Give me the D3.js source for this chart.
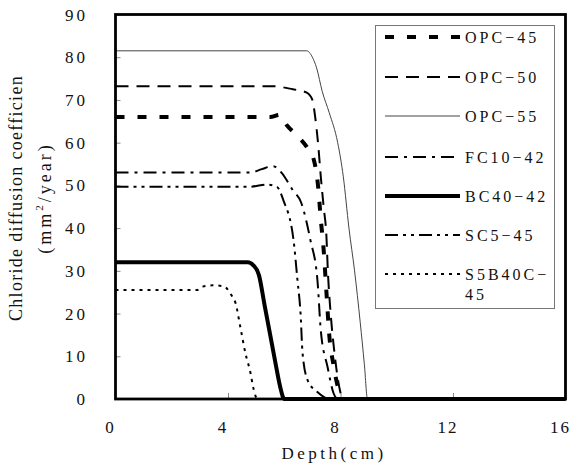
<!DOCTYPE html>
<html lang="en">
<head>
    <meta charset="utf-8" />
    <title>Chloride diffusion coefficient vs depth</title>
    <script src="https://d3js.org/d3.v7.min.js"></script>
    <style>
        body { margin: 0; background: #fff; }
        text { font-family: "Liberation Serif", "DejaVu Serif", serif; fill: #111; }
    </style>
</head>
<body>
    <div id="chart"></div>
    <script>
        // series names (legend order)
        const names = ["OPC−45", "OPC−50", "OPC−55", "FC10−42", "BC40−42", "SC5−45", "S5B40C−45"];

        // depth (cm) / coefficient (mm2/year)
        const opc45 = [[0,66],[5.5,66],[5.85,66.5],[6.1,64],[6.4,62],[6.8,59],[7.05,56],[7.2,50],[7.3,42],[7.4,35],[7.5,25],[7.6,15],[7.75,8],[7.9,3],[8.1,0],[16,0]];
        const opc50 = [[0,73.2],[5.6,73.2],[6.3,72.5],[6.8,71.7],[7.0,70],[7.1,66],[7.2,60],[7.3,52],[7.4,45],[7.5,38],[7.55,30],[7.65,20],[7.8,10],[7.95,3],[8.1,0],[16,0]];
        const opc55 = [[0,81.5],[6.8,81.5],[7.0,80],[7.15,77.5],[7.35,72],[7.6,67],[7.9,60],[8.1,52],[8.3,40],[8.5,30],[8.7,18],[8.85,8],[8.96,0],[16,0]];
        const fc1042 = [[0,53],[4.8,53],[5.2,53.8],[5.6,54.5],[5.9,53],[6.3,48.9],[6.6,46],[6.93,37.2],[7.18,27.8],[7.3,16],[7.54,7.5],[7.75,1.4],[7.9,0],[16,0]];
        const bc4042 = [[0,32],[4.7,32],[4.9,31.3],[5.1,29],[5.3,22],[5.5,15],[5.7,8],[5.85,3],[6.0,0],[16,0]];
        const sc545 = [[0,49.7],[4.8,49.7],[5.4,50.2],[5.75,49.6],[5.97,46.5],[6.33,37.2],[6.47,27.8],[6.58,20],[6.65,10.8],[6.83,4.4],[7.2,1.5],[7.6,0],[16,0]];
        const s5b40c45 = [[0,25.5],[2.9,25.5],[3.1,26.3],[3.45,26.6],[3.85,26.4],[4.1,24.5],[4.27,22.4],[4.44,16.8],[4.62,10.7],[4.8,6.1],[4.9,2.6],[5.05,0],[16,0]];

        const seriesData = [opc45, opc50, opc55, fc1042, bc4042, sc545, s5b40c45];

        const xTicks = [0, 4, 8, 12, 16];
        const yTicks = [0, 10, 20, 30, 40, 50, 60, 70, 80, 90];

        // line styles per series
        const styles = [
            { w: 4, dash: "9,13" },
            { w: 2, dash: "13,8" },
            { w: 1, dash: null, color: "#444" },
            { w: 2, dash: "13,6,3,6" },
            { w: 4, dash: null },
            { w: 2, dash: "13,5,3,5,3,5" },
            { w: 2, dash: "3,5" }
        ];

        const width = 571, height = 465;
        const svg = d3.select("#chart").append("svg")
            .attr("width", width)
            .attr("height", height);

        const x = d3.scaleLinear().domain([0, 16]).range([115.5, 565.5]);
        const y = d3.scaleLinear().domain([0, 90]).range([399, 14.5]);

        // inner tick marks
        svg.append("g")
            .attr("transform", `translate(${x(0)},0)`)
            .call(d3.axisRight(y).tickValues(yTicks.slice(1, -1)).tickSize(5).tickFormat(""))
            .call(g => g.select(".domain").remove())
            .call(g => g.selectAll("line").attr("stroke", "#888"));
        svg.append("g")
            .attr("transform", `translate(0,${y(0)})`)
            .call(d3.axisTop(x).tickValues(xTicks.slice(1, -1)).tickSize(6).tickFormat(""))
            .call(g => g.select(".domain").remove())
            .call(g => g.selectAll("line").attr("stroke", "#888"));

        // tick labels
        svg.append("g").selectAll("text")
            .data(yTicks).enter().append("text")
            .attr("x", 88)
            .attr("y", d => y(d) + 6)
            .attr("text-anchor", "end")
            .style("font-size", "17px")
            .style("letter-spacing", "3px")
            .text(d => d);
        svg.append("g").selectAll("text")
            .data(xTicks).enter().append("text")
            .attr("x", d => x(d) - 5)
            .attr("y", 433)
            .attr("text-anchor", "middle")
            .style("font-size", "17px")
            .style("letter-spacing", "2px")
            .text(d => d);

        // axis titles
        svg.append("text")
            .attr("x", 334).attr("y", 459)
            .attr("text-anchor", "middle")
            .style("font-size", "17px")
            .style("letter-spacing", "3.5px")
            .text("Depth(cm)");
        svg.append("text")
            .attr("transform", "translate(22,198) rotate(-90)")
            .attr("text-anchor", "middle")
            .style("font-size", "18px")
            .style("letter-spacing", "1.3px")
            .text("Chloride diffusion coefficien");
        const yt = svg.append("text")
            .attr("transform", "translate(51,198) rotate(-90)")
            .attr("text-anchor", "middle")
            .style("font-size", "18px")
            .style("letter-spacing", "3px");
        yt.append("tspan").text("(mm");
        yt.append("tspan").attr("dy", -8).style("font-size", "11px").text("2");
        yt.append("tspan").attr("dy", 8).text("/year)");

        // series lines
        const line = d3.line()
            .x(d => x(d[0]))
            .y(d => y(d[1]))
            .curve(d3.curveMonotoneX);

        svg.append("g").selectAll("path")
            .data(seriesData).enter().append("path")
            .attr("d", line)
            .attr("fill", "none")
            .attr("stroke", (d, i) => styles[i].color || "#000")
            .attr("stroke-width", (d, i) => styles[i].w)
            .attr("stroke-dasharray", (d, i) => styles[i].dash);

        // plot frame
        svg.append("rect")
            .attr("x", x(0)).attr("y", y(90))
            .attr("width", x(16) - x(0))
            .attr("height", y(0) - y(90))
            .attr("fill", "none")
            .attr("stroke", "#000")
            .attr("stroke-width", 2.8);

        // legend
        const legend = svg.append("g");
        legend.append("rect")
            .attr("x", 375.5).attr("y", 25.5)
            .attr("width", 179).attr("height", 283)
            .attr("fill", "#fff")
            .attr("stroke", "#777")
            .attr("stroke-width", 1);

        const legY = [37, 77, 116, 157, 196, 235, 274];
        const items = legend.selectAll("g.item")
            .data(names).enter().append("g")
            .attr("class", "item")
            .attr("transform", (d, i) => `translate(0,${legY[i]})`);
        items.append("line")
            .attr("x1", 385).attr("x2", 460)
            .attr("stroke", (d, i) => styles[i].color || "#000")
            .attr("stroke-width", (d, i) => styles[i].w)
            .attr("stroke-dasharray", (d, i) => styles[i].dash);
        items.append("text")
            .attr("x", 465).attr("y", 6)
            .style("font-size", "16px")
            .style("letter-spacing", "3px")
            .each(function (d) {
                const t = d3.select(this);
                if (d === "S5B40C−45") {
                    t.append("tspan").attr("x", 465).text("S5B40C−");
                    t.append("tspan").attr("x", 465).attr("dy", 20).text("45");
                } else {
                    t.text(d);
                }
            });
    </script>
</body>
</html>
